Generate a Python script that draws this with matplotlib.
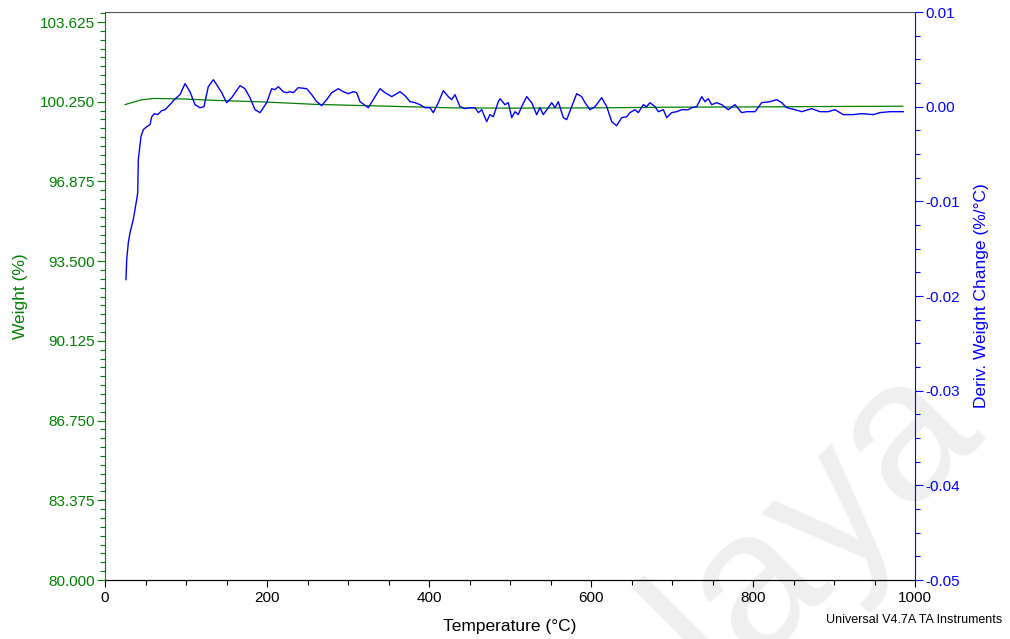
import matplotlib

matplotlib.use("Agg")

import matplotlib.pyplot as plt
from matplotlib.ticker import FixedLocator, FuncFormatter, MultipleLocator

plt.rcParams["font.family"] = ["Liberation Sans", "DejaVu Sans"]

GREEN = "#008000"
BLUE = "#0000ff"

# weight curve (%)
weight_temp = [24.7, 45, 60, 95, 135, 197, 259, 350, 430, 500, 600, 700, 800, 900, 985]
weight_pct = [100.13, 100.33, 100.39, 100.37, 100.31, 100.24, 100.14, 100.06, 99.99,
              99.98, 99.99, 100.02, 100.03, 100.05, 100.06]

# derivative weight curve (%/°C, in units of 1e-3)
deriv_temp = [
    25.9, 26.8, 28.8, 30.9, 34.9, 39.1, 40.4, 41.1, 44.4, 47.3, 51.5, 55.6, 57.7, 60.9,
    65.1, 70.0, 74.1, 80.2, 85.6, 92.6, 98.8, 104.9, 111.1, 117.3, 122.2, 127.5, 133.7,
    137.9, 144.1, 150.2, 156.4, 166.7, 172.8, 179.0, 185.2, 191.4, 199.6, 205.8, 209.9,
    214.0, 220.1, 224.3, 228.4, 232.5, 238.6, 249.0, 255.2, 261.4, 267.5, 273.7, 279.9,
    288.0, 294.2, 300.4, 306.5, 310.7, 314.8, 325.1, 331.2, 339.5, 345.7, 354.0, 364.2,
    370.4, 376.5, 382.7, 388.9, 395.1, 401.2, 405.3, 411.5, 417.7, 423.8, 428.0, 432.1,
    438.3, 444.4, 450.6, 456.8, 460.9, 465.1, 471.2, 475.3, 479.4, 485.6, 487.7, 493.8,
    497.9, 502.1, 506.2, 510.2, 514.4, 520.6, 526.8, 532.9, 537.0, 541.1, 547.3, 551.5,
    555.6, 559.6, 565.8, 570.0, 576.2, 582.3, 588.5, 592.6, 598.8, 605.0, 613.2, 619.4,
    625.6, 631.7, 637.9, 644.1, 648.1, 654.3, 658.4, 664.6, 668.8, 672.8, 679.0, 683.1,
    689.3, 693.5, 699.6, 705.8, 712.0, 720.1, 724.3, 730.5, 736.7, 740.7, 744.8, 749.0,
    755.2, 761.4, 769.5, 777.8, 786.0, 792.2, 802.5, 810.7, 821.0, 829.3, 835.4, 841.6,
    851.9, 860.1, 872.5, 882.7, 893.0, 901.2, 911.5, 923.8, 934.2, 948.5, 956.8, 969.1,
    985.6,
]
deriv_milli = [
    -18.27, -16.16, -14.36, -13.30, -11.93, -9.82, -9.08, -5.60, -3.17, -2.43, -2.11,
    -1.90, -1.06, -0.74, -0.84, -0.42, -0.32, 0.21, 0.74, 1.27, 2.43, 1.58, 0.21, -0.11,
    0.00, 2.11, 2.85, 2.32, 1.48, 0.42, 0.95, 2.22, 1.90, 0.95, -0.32, -0.63, 0.42, 1.90,
    1.80, 2.11, 1.58, 1.48, 1.58, 1.48, 2.01, 1.90, 1.27, 0.53, 0.11, 0.74, 1.48, 1.90,
    1.58, 1.37, 1.58, 1.48, 0.53, -0.11, 0.74, 1.90, 1.48, 1.06, 1.58, 1.16, 0.53, 0.42,
    0.21, -0.11, -0.11, -0.63, 0.42, 1.69, 1.06, 0.74, 1.27, 0.00, -0.21, -0.11, -0.11,
    -0.63, -0.32, -1.58, -0.84, -1.06, 0.53, 0.84, 0.21, 0.42, -1.16, -0.53, -0.84, 0.00,
    1.06, 0.42, -0.84, -0.11, -0.84, -0.11, 0.42, -0.11, 0.53, -1.16, -1.37, 0.00, 1.37,
    1.06, 0.42, -0.32, 0.00, 0.95, 0.00, -1.58, -2.01, -1.16, -1.06, -0.63, -0.32, -0.63,
    0.21, 0.00, 0.42, 0.00, -0.53, -0.32, -1.16, -0.63, -0.53, -0.32, -0.32, -0.11, 0.00,
    1.06, 0.53, 0.84, 0.21, 0.42, 0.21, -0.32, 0.21, -0.63, -0.53, -0.53, 0.42, 0.53,
    0.74, 0.42, -0.11, -0.32, -0.53, -0.21, -0.53, -0.53, -0.32, -0.84, -0.84, -0.74,
    -0.84, -0.63, -0.53, -0.53,
]
deriv = [v / 1000.0 for v in deriv_milli]

# axis ticks as printed by the instrument software
weight_ticks = [80.000, 83.375, 86.750, 90.125, 93.500, 96.875, 100.250, 103.625]
deriv_ticks = [-0.05, -0.04, -0.03, -0.02, -0.01, 0.00, 0.01]

fig = plt.figure(figsize=(10.10, 6.39), dpi=100)
fig.text(0.975, 0.325, "alaya", fontsize=145, color="#efefef", rotation=45,
         rotation_mode="anchor", ha="right", va="baseline", zorder=-5)

ax = fig.add_axes([105 / 1010, 1 - 580 / 639, 810 / 1010, 568 / 639])
ax.set_facecolor("none")
ax2 = ax.twinx()
ax2.set_facecolor("none")

ax.plot(weight_temp, weight_pct, color=GREEN, linewidth=0.9)
ax2.plot(deriv_temp, deriv, color=BLUE, linewidth=1.0)

ax.set_xlim(0, 1000)
ax.set_ylim(80, 104.05)
ax2.set_ylim(-0.05, 0.01)

ax.xaxis.set_major_locator(MultipleLocator(200))
ax.xaxis.set_minor_locator(MultipleLocator(50))
ax.yaxis.set_major_locator(FixedLocator(weight_ticks))
ax.yaxis.set_minor_locator(FixedLocator([80 + 0.375 * i for i in range(65)]))
ax.yaxis.set_major_formatter(FuncFormatter(lambda v, p: f"{v:.3f}"))
ax2.yaxis.set_major_locator(FixedLocator(deriv_ticks))
ax2.yaxis.set_minor_locator(MultipleLocator(0.0025))
ax2.yaxis.set_major_formatter(FuncFormatter(lambda v, p: f"{round(v, 4) + 0.0:.2f}"))

for a in (ax, ax2):
    for s in a.spines.values():
        s.set_linewidth(0.8)
ax.spines["left"].set_color(GREEN)
ax2.spines["left"].set_visible(False)
ax.spines["right"].set_visible(False)
ax2.spines["right"].set_color(BLUE)
ax2.spines["top"].set_color("#555555")
ax.spines["top"].set_visible(False)

ax.tick_params(axis="x", which="major", length=5, width=0.8, labelsize=11, pad=3)
ax.tick_params(axis="x", which="minor", length=3.3, width=0.8)
ax.tick_params(axis="y", which="major", length=5.5, width=0.8, color=GREEN,
               labelcolor=GREEN, labelsize=11, pad=2)
ax.tick_params(axis="y", which="minor", length=3.5, width=0.8, color=GREEN)
ax2.tick_params(axis="y", which="major", length=5.5, width=0.8, color=BLUE,
                labelcolor=BLUE, labelsize=11, pad=2)
ax2.tick_params(axis="y", which="minor", length=3.5, width=0.8, color=BLUE)

ax.set_xlabel("Temperature (°C)", fontsize=12.5, labelpad=10)
ax.set_ylabel("Weight (%)", fontsize=12.5, color=GREEN, labelpad=8)
ax2.set_ylabel("Deriv. Weight Change (%/°C)", fontsize=12.5, color=BLUE, labelpad=10)

fig.text(0.992, 0.030, "Universal V4.7A TA Instruments", fontsize=9, ha="right",
         va="center")

fig.savefig("out.png", dpi=100)
